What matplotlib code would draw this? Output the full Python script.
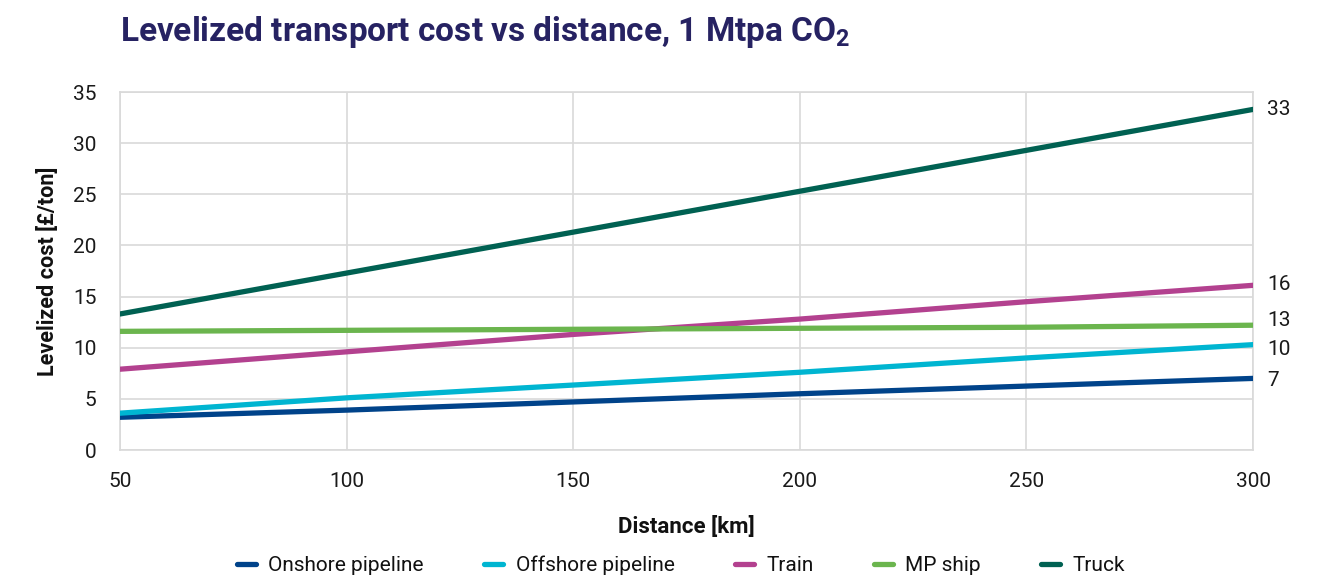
import matplotlib
matplotlib.use("Agg")
import matplotlib.pyplot as plt

plt.rcParams['font.family'] = ['Roboto', 'DejaVu Sans']

distance = [50, 100, 150, 200, 250, 300]
onshore = [3.2, 3.9, 4.7, 5.5, 6.25, 7.0]
offshore = [3.6, 5.1, 6.35, 7.6, 9.0, 10.3]
train = [7.9, 9.6, 11.3, 12.8, 14.5, 16.1]
mp_ship = [11.6, 11.7, 11.8, 11.9, 12.0, 12.2]
truck = [13.3, 17.3, 21.3, 25.3, 29.3, 33.3]

series_names = ["Onshore pipeline", "Offshore pipeline", "Train", "MP ship", "Truck"]
series_values = [onshore, offshore, train, mp_ship, truck]
colors = ["#00438a", "#00b5d1", "#b3418f", "#6bb54e", "#006152"]
end_labels = ["7", "10", "16", "13", "33"]
end_label_y = [6.8, 9.8, 16.2, 12.7, 33.3]

fig = plt.figure(figsize=(13.25, 5.76), dpi=100)
ax = fig.add_axes([0.0906, 0.21875, 0.8551, 0.6215])

for name, vals, c in zip(series_names, series_values, colors):
    ax.plot(distance, vals, color=c, lw=3.8, solid_capstyle='round', label=name, zorder=3)

for lab, yv in zip(end_labels, end_label_y):
    ax.text(1.0125, yv, lab, transform=ax.get_yaxis_transform(), ha='left', va='center',
            fontsize=15, color='#1a1a1a')

ax.set_xlim(50, 300)
ax.set_ylim(0, 35)
ax.set_xticks(distance)
ax.set_yticks(range(0, 36, 5))
ax.grid(True, color='#d9d9d9', lw=1.2)
ax.set_axisbelow(True)
for s in ax.spines.values():
    s.set_color('#d9d9d9')
    s.set_linewidth(1.2)
ax.tick_params(length=0, labelsize=15, colors='#1a1a1a')
ax.tick_params(axis='y', pad=17)
ax.tick_params(axis='x', pad=16)

ax.set_xlabel("Distance [km]", fontsize=16, fontweight='bold', color='#111111', labelpad=18)
ax.set_ylabel("Levelized cost [£/ton]", fontsize=15.5, fontweight='bold', color='#111111', labelpad=10)

fig.text(0.0906, 0.945, r"Levelized transport cost vs distance, 1 Mtpa CO$_\mathregular{2}$",
         fontsize=24, fontweight='bold', color='#262262', ha='left', va='center')

leg = fig.legend(loc='center', bbox_to_anchor=(0.514, 0.018), ncol=5, frameon=False,
                 fontsize=15, handlelength=0.9, columnspacing=2.9, handletextpad=0.6)
for t in leg.get_texts():
    t.set_color('#111111')

fig.savefig("out.png", dpi=100)
